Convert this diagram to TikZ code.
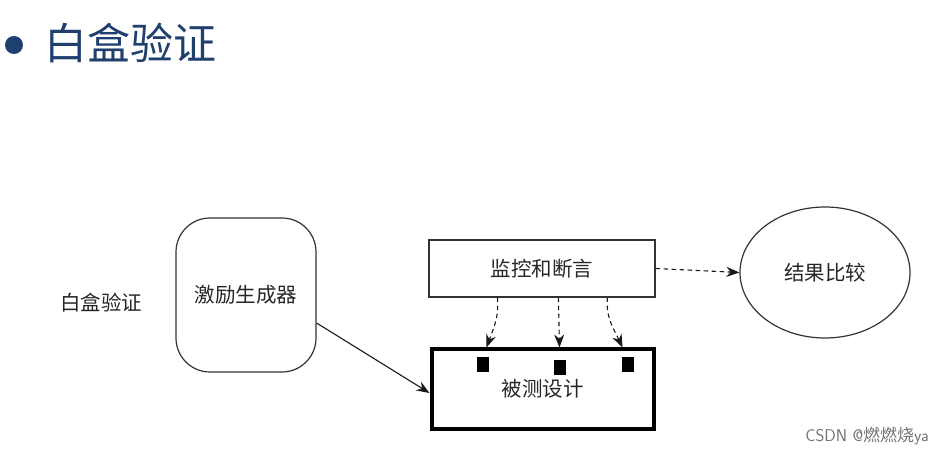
\documentclass[tikz,border=0pt]{standalone}
\usepackage{fontspec}
\newfontfamily\cjk{Noto Sans CJK SC}
\usetikzlibrary{shapes.geometric,arrows.meta,calc}
\definecolor{navy}{HTML}{1F3F6E}
\definecolor{linegray}{HTML}{333333}
\tikzset{
  lbl/.style={font=\cjk\fontsize{20.5}{24}\selectfont, text=black!85, inner sep=0pt},
  thinbox/.style={draw=linegray, line width=1.2pt, lbl},
  arr/.style={-{Stealth[length=13pt,width=10pt]}, line width=1.1pt, draw=black!90},
  darr/.style={arr, dash pattern=on 4.5pt off 3.5pt},
  port/.style={fill=black, draw=none, minimum width=12pt, minimum height=15pt, inner sep=0pt}
}
\begin{document}
\begin{tikzpicture}[x=1pt,y=-1pt]
\useasboundingbox[fill=white] (0,0) rectangle (943,454);
% title
\node[circle, fill=navy, minimum size=18pt, inner sep=0pt] (bullet) at (14,45) {};
\node[font=\cjk\fontsize{43}{50}\selectfont, text=navy, anchor=west, inner sep=0pt] (title) at (44,43) {白盒验证};
% side label
\node[lbl] (side) at (101,303) {白盒验证};
% stimulus generator
\node[thinbox, rounded corners=34pt, minimum width=140pt, minimum height=154pt] (stim) at (246,295) {激励生成器};
% monitor
\node[thinbox, minimum width=226pt, minimum height=57pt] (mon) at (542,268.5) {监控和断言};
% result comparison
\node[thinbox, ellipse, minimum width=170pt, minimum height=131pt] (cmp) at (825,272.5) {结果比较};
% DUT
\node[draw=black, line width=4pt, lbl, minimum width=222pt, minimum height=79pt] (dut) at (542.5,389) {\raisebox{-6pt}{被测设计}};
% ports
\node[port] (p1) at (483,365) {};
\node[port] (p2) at (559.5,367.5) {};
\node[port] (p3) at (628,364.5) {};
% connectors
\draw[arr] (stim.east |- 0,323) -- (dut.west |- 0,393);
\draw[darr] (mon.east) -- (cmp.west);
\draw[darr] ($(mon.south west)+(69,0)$) to[out=-85,in=70] ($(dut.north west)+(57,0)$);
\draw[darr] ($(mon.south west)+(130,0)$) -- ($(dut.north west)+(130,0)$);
\draw[darr] ($(mon.south west)+(179,0)$) to[out=-95,in=115] ($(dut.north west)+(193,0)$);
% watermark
\node[font=\sffamily\fontsize{17}{19}\selectfont, text=black!55, anchor=east, inner sep=0pt] (wm) at (929,436) {CSDN @\cjk 燃燃烧\sffamily ya};
\end{tikzpicture}
\end{document}
